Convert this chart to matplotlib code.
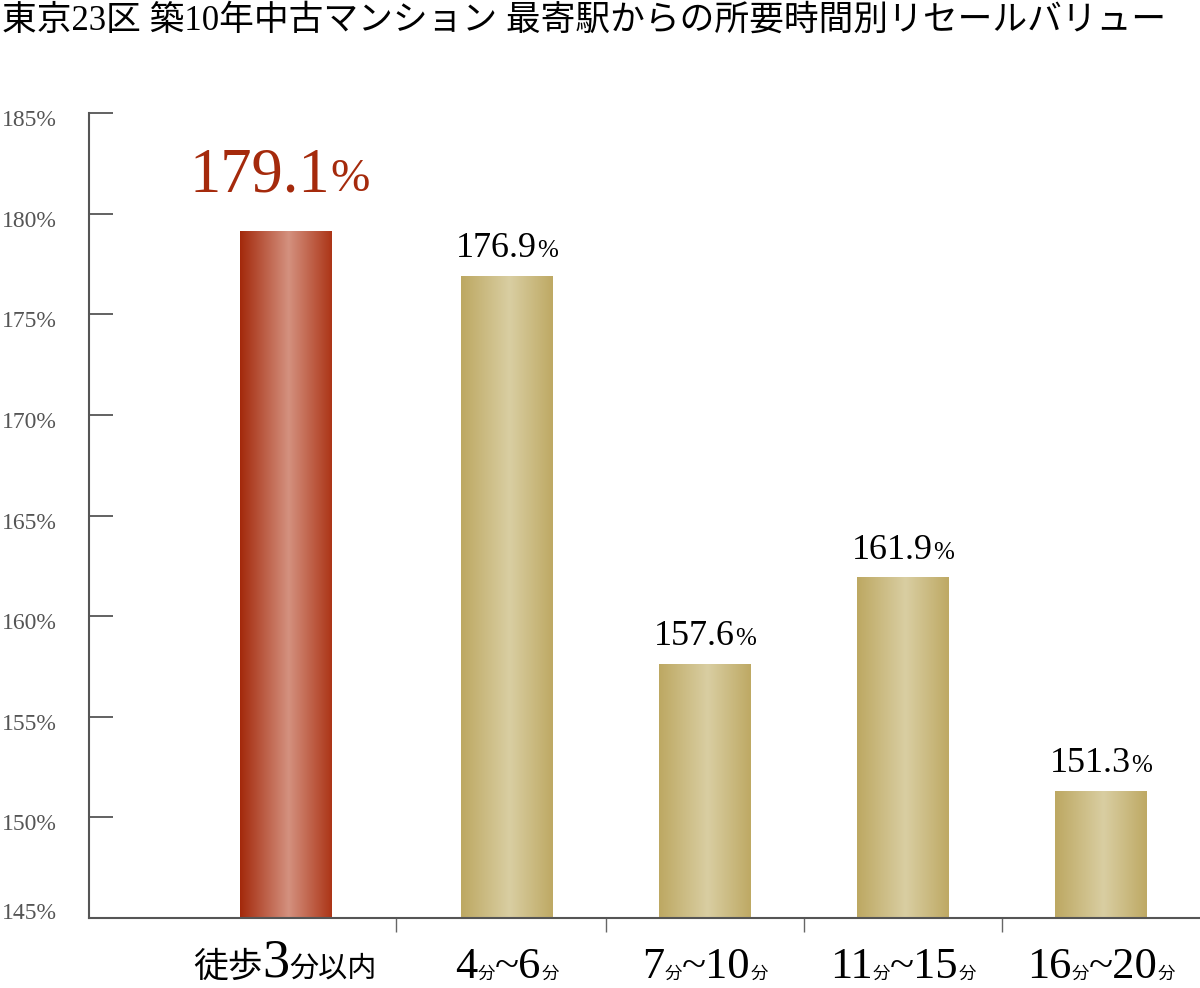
import numpy as np
import matplotlib
matplotlib.use("Agg")
import matplotlib.pyplot as plt
from matplotlib.colors import LinearSegmentedColormap
from matplotlib.offsetbox import TextArea, HPacker, AnnotationBbox
from matplotlib.transforms import ScaledTranslation

title = "東京23区 築10年中古マンション 最寄駅からの所要時間別リセールバリュー"
categories = ["徒歩3分以内", "4分~6分", "7分~10分", "11分~15分", "16分~20分"]
values = [179.1, 176.9, 157.6, 161.9, 151.3]
yticks = [145, 150, 155, 160, 165, 170, 175, 180, 185]

SERIF = "Liberation Serif"
CJK = "Noto Sans CJK JP"
RED = "#A52A0C"
GRAY = "#555555"

# first bar sits a little further from the rest
positions = np.array([0, 1.12, 2.12, 3.12, 4.12])
base = yticks[0]


def split_runs(s):
    # group characters into runs of cjk / latin
    runs = []
    for ch in s:
        kind = "cjk" if ord(ch) > 0x2000 else "lat"
        if runs and runs[-1][0] == kind:
            runs[-1][1] += ch
        else:
            runs.append([kind, ch])
    return runs


def text_parts(s, lat_size, cjk_sizes, color="black"):
    # cjk_sizes: one size, or a list used run by run
    if not isinstance(cjk_sizes, list):
        cjk_sizes = [cjk_sizes]
    parts = []
    k = 0
    for kind, txt in split_runs(s):
        if kind == "lat":
            props = dict(fontfamily=SERIF, fontsize=lat_size, color=color)
        else:
            props = dict(fontfamily=CJK, fontsize=cjk_sizes[min(k, len(cjk_sizes) - 1)], color=color)
            k += 1
        parts.append(TextArea(txt, textprops=props))
    return parts


fig = plt.figure(figsize=(12, 9.88), dpi=100)
ax = fig.add_axes([89 / 1200, 1 - 918 / 988, 1 - 89 / 1200, (918 - 113) / 988])

bars = ax.bar(positions, np.array(values) - base, bottom=base, width=0.46,
              color="none", edgecolor="none")

grad = np.linspace(0, 1, 256).reshape(1, -1)
red_map = LinearSegmentedColormap.from_list("r", [(0, "#A3290B"), (0.53, "#D4917F"), (1, "#AC3517")])
gold_map = LinearSegmentedColormap.from_list("g", [(0, "#BDA862"), (0.53, "#D9CEA2"), (1, "#BEA964")])
for i, b in enumerate(bars):
    x0, y0 = b.get_x(), b.get_y()
    ax.imshow(grad, cmap=red_map if i == 0 else gold_map, aspect="auto",
              extent=(x0, x0 + b.get_width(), y0, y0 + b.get_height()), zorder=2)

ax.set_xlim(-0.99, 4.62)
ax.set_ylim(145, 185)

# value labels
for i, (x, v) in enumerate(zip(positions, values)):
    if i == 0:
        parts = text_parts(f"{v:.1f}", 45, 45, RED)
        parts.append(TextArea("%", textprops=dict(fontfamily=SERIF, fontsize=34, color=RED)))
        off = (-4, 19)
    else:
        parts = text_parts(f"{v:.1f}", 26, 26)
        parts.append(TextArea("%", textprops=dict(fontfamily=SERIF, fontsize=18, color="black")))
        off = (0, 8)
    box = HPacker(children=parts, align="baseline", pad=0, sep=0)
    ab = AnnotationBbox(box, (x, v), xybox=off, boxcoords="offset points",
                        box_alignment=(0.5, 0), frameon=False, pad=0)
    ax.add_artist(ab)

# category labels
for i, (x, c) in enumerate(zip(positions, categories)):
    if i == 0:
        parts = text_parts(c, 39, [25, 21])
        dy = -51
    else:
        parts = text_parts(c, 32, 12.5)
        dy = -50
    box = HPacker(children=parts, align="baseline", pad=0, sep=0)
    ab = AnnotationBbox(box, (x, 0), xycoords=("data", "axes fraction"),
                        xybox=(0, dy), boxcoords="offset points",
                        box_alignment=(0.5, 0), frameon=False, pad=0,
                        annotation_clip=False)
    ax.add_artist(ab)

ax.set_yticks(yticks)
ax.set_yticklabels([f"{t}%" for t in yticks], fontfamily=SERIF, fontsize=17, color=GRAY)
ax.tick_params(axis="y", direction="in", length=17, width=1.3, color=GRAY, pad=23)
# labels sit a bit under their ticks, the lowest one above
for j, lab in enumerate(ax.get_yticklabels()):
    shift = 7 / 100 if j == 0 else -5 / 100
    lab.set_transform(lab.get_transform() + ScaledTranslation(0, shift, fig.dpi_scale_trans))

mids = (positions[:-1] + positions[1:]) / 2
ax.set_xticks(mids)
ax.set_xticklabels([])
ax.tick_params(axis="x", direction="out", length=10, width=1, color="#666666")

for s in ["top", "right"]:
    ax.spines[s].set_visible(False)
for s in ["left", "bottom"]:
    ax.spines[s].set_color(GRAY)
    ax.spines[s].set_linewidth(1.5)

fig.text(0.002, 0.995, title, ha="left", va="top", fontsize=25,
         fontfamily=[SERIF, CJK], color="black")

fig.savefig("out.png", dpi=100)
